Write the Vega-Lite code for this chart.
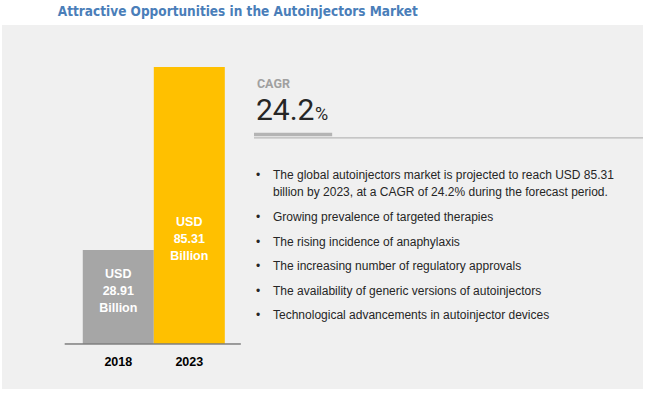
{
  "$schema": "https://vega.github.io/schema/vega-lite/v6.json",
  "background": "white",
  "padding": {"left": 2, "top": 4, "right": 7, "bottom": 7},
  "title": {
    "text": "Attractive Opportunities in the Autoinjectors Market",
    "font": "DejaVu Sans Condensed, Liberation Sans Narrow, Roboto Condensed, Liberation Sans",
    "fontSize": 13.5,
    "fontWeight": "bold",
    "color": "#4a7eb9",
    "anchor": "middle",
    "dx": -85,
    "offset": 7
  },
  "spacing": 0,
  "config": {
    "view": {"stroke": null, "fill": "#f0f0f0"},
    "concat": {"spacing": 0}
  },
  "datasets": {
    "market": [
      {"year": "2018", "value": 28.91},
      {"year": "2023", "value": 85.31}
    ],
    "kpi": [{"label": "CAGR", "value": 24.2}],
    "bullets": [
      {"rank": 0, "text": ["The global autoinjectors market is projected to reach USD 85.31", "billion by 2023, at a CAGR of 24.2% during the forecast period."]},
      {"rank": 1, "text": "Growing prevalence of targeted therapies"},
      {"rank": 2, "text": "The rising incidence of anaphylaxis"},
      {"rank": 3, "text": "The increasing number of regulatory approvals"},
      {"rank": 4, "text": "The availability of generic versions of autoinjectors"},
      {"rank": 5, "text": "Technological advancements in autoinjector devices"}
    ]
  },
  "hconcat": [
    {
      "width": 243,
      "height": 364,
      "data": {"name": "market"},
      "transform": [
        {"calculate": "['USD', format(datum.value, '.2f'), 'Billion']", "as": "label"}
      ],
      "encoding": {
        "x": {
          "field": "year",
          "type": "nominal",
          "scale": {"paddingInner": 0, "paddingOuter": 0.711, "align": 0.8},
          "axis": {
            "title": null,
            "orient": "bottom",
            "offset": -45,
            "domain": false,
            "ticks": false,
            "labelAngle": 0,
            "labelFont": "Liberation Sans",
            "labelFontSize": 12.5,
            "labelFontWeight": "bold",
            "labelColor": "#000000",
            "labelPadding": 11
          }
        }
      },
      "layer": [
        {
          "mark": {"type": "bar"},
          "encoding": {
            "y": {
              "field": "value",
              "type": "quantitative",
              "scale": {"domain": [-13.86, 98.24], "nice": false, "zero": false},
              "axis": null
            },
            "y2": {"datum": 0},
            "color": {
              "field": "year",
              "type": "nominal",
              "scale": {"range": ["#a6a6a6", "#ffc000"]},
              "legend": null
            }
          }
        },
        {
          "mark": {"type": "rule", "color": "#7f7f7f", "strokeWidth": 1},
          "encoding": {
            "y": {"datum": 0, "type": "quantitative"},
            "x": {"datum": "2018", "type": "nominal", "bandPosition": -0.254},
            "x2": {"datum": "2023", "bandPosition": 1.225}
          }
        },
        {
          "transform": [{"filter": "datum.year == '2018'"}],
          "mark": {"type": "text", "color": "white", "font": "Liberation Sans", "fontSize": 12.5, "fontWeight": "bold", "lineHeight": 17, "baseline": "middle", "dy": 24},
          "encoding": {
            "y": {"field": "value", "type": "quantitative"},
            "text": {"field": "label"}
          }
        },
        {
          "transform": [{"filter": "datum.year == '2023'"}],
          "mark": {"type": "text", "color": "white", "font": "Liberation Sans", "fontSize": 12.5, "fontWeight": "bold", "lineHeight": 17, "baseline": "middle", "dy": 155},
          "encoding": {
            "y": {"field": "value", "type": "quantitative"},
            "text": {"field": "label"}
          }
        }
      ]
    },
    {
      "width": 398,
      "height": 364,
      "resolve": {"scale": {"y": "independent"}},
      "layer": [
        {
          "data": {"name": "kpi"},
          "mark": {"type": "text", "align": "left", "baseline": "middle", "font": "Roboto", "fontSize": 12.5, "fontWeight": "bold", "color": "#a0a0a0"},
          "encoding": {
            "x": {"datum": 3.0, "type": "quantitative", "scale": {"domain": [0, 100], "nice": false}, "axis": null},
            "y": {"datum": 16.2, "type": "quantitative", "scale": {"domain": [0, 100], "nice": false, "reverse": true}, "axis": null},
            "text": {"field": "label"}
          }
        },
        {
          "data": {"name": "kpi"},
          "mark": {"type": "text", "align": "left", "baseline": "alphabetic", "font": "Roboto", "fontSize": 30, "color": "#262626"},
          "encoding": {
            "x": {"datum": 2.76, "type": "quantitative", "scale": {"domain": [0, 100], "nice": false}, "axis": null},
            "y": {"datum": 26.1, "type": "quantitative", "scale": {"domain": [0, 100], "nice": false, "reverse": true}, "axis": null},
            "text": {"field": "value", "format": ".1f"}
          }
        },
        {
          "data": {"name": "kpi"},
          "mark": {"type": "text", "align": "left", "baseline": "alphabetic", "font": "Roboto", "fontSize": 18, "color": "#262626", "text": "%"},
          "encoding": {
            "x": {"datum": 17.6, "type": "quantitative", "scale": {"domain": [0, 100], "nice": false}, "axis": null},
            "y": {"datum": 26.1, "type": "quantitative", "scale": {"domain": [0, 100], "nice": false, "reverse": true}, "axis": null}
          }
        },
        {
          "data": {"name": "kpi"},
          "mark": {"type": "rule", "color": "#b8b8b8", "strokeWidth": 1.2},
          "encoding": {
            "x": {"datum": 2.26, "type": "quantitative", "scale": {"domain": [0, 100], "nice": false}, "axis": null},
            "x2": {"datum": 100},
            "y": {"datum": 31.0, "type": "quantitative", "scale": {"domain": [0, 100], "nice": false, "reverse": true}, "axis": null}
          }
        },
        {
          "data": {"name": "kpi"},
          "mark": {"type": "rule", "color": "#b4b4b4", "strokeWidth": 3.5},
          "encoding": {
            "x": {"datum": 2.26, "type": "quantitative", "scale": {"domain": [0, 100], "nice": false}, "axis": null},
            "x2": {"datum": 21.9},
            "y": {"datum": 30.1, "type": "quantitative", "scale": {"domain": [0, 100], "nice": false, "reverse": true}, "axis": null}
          }
        },
        {
          "data": {"name": "bullets"},
          "transform": [{"filter": "datum.rank > 0"}],
          "mark": {"type": "text", "align": "left", "baseline": "middle", "font": "Liberation Sans", "fontSize": 12, "color": "#262626", "lineHeight": 17},
          "encoding": {
            "x": {"datum": 7.04, "type": "quantitative", "scale": {"domain": [0, 100], "nice": false}, "axis": null},
            "y": {"field": "rank", "type": "quantitative", "scale": {"domain": [-6.805, 7.992], "nice": false, "zero": false, "reverse": true}, "axis": null},
            "text": {"field": "text"}
          }
        },
        {
          "data": {"name": "bullets"},
          "transform": [{"filter": "datum.rank == 0"}],
          "mark": {"type": "text", "align": "left", "baseline": "middle", "font": "Liberation Sans", "fontSize": 12, "color": "#262626", "lineHeight": 17, "dy": -17.4},
          "encoding": {
            "x": {"datum": 7.04, "type": "quantitative", "scale": {"domain": [0, 100], "nice": false}, "axis": null},
            "y": {"field": "rank", "type": "quantitative", "scale": {"domain": [-6.805, 7.992], "nice": false, "zero": false, "reverse": true}, "axis": null},
            "text": {"field": "text"}
          }
        },
        {
          "data": {"name": "bullets"},
          "transform": [{"filter": "datum.rank > 0"}],
          "mark": {"type": "text", "align": "center", "baseline": "middle", "font": "Liberation Sans", "fontSize": 12, "color": "#262626", "text": "•"},
          "encoding": {
            "x": {"datum": 3.27, "type": "quantitative", "scale": {"domain": [0, 100], "nice": false}, "axis": null},
            "y": {"field": "rank", "type": "quantitative", "scale": {"domain": [-6.805, 7.992], "nice": false, "zero": false, "reverse": true}, "axis": null}
          }
        },
        {
          "data": {"name": "bullets"},
          "transform": [{"filter": "datum.rank == 0"}],
          "mark": {"type": "text", "align": "center", "baseline": "middle", "font": "Liberation Sans", "fontSize": 12, "color": "#262626", "text": "•", "dy": -17.4},
          "encoding": {
            "x": {"datum": 3.27, "type": "quantitative", "scale": {"domain": [0, 100], "nice": false}, "axis": null},
            "y": {"field": "rank", "type": "quantitative", "scale": {"domain": [-6.805, 7.992], "nice": false, "zero": false, "reverse": true}, "axis": null}
          }
        }
      ]
    }
  ]
}
